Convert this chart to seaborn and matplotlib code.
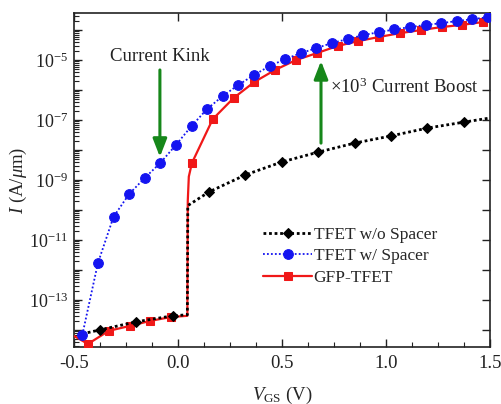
import numpy as np
import pandas as pd
import matplotlib
matplotlib.use("Agg")
import matplotlib.pyplot as plt
import matplotlib.ticker as mticker
import seaborn as sns

# ---- data: gate voltage (V) and drain current (A/um) ----
vgs_nospacer = [-0.46, -0.376, -0.201, -0.026, 0.045, 0.047, 0.149, 0.324, 0.499,
                0.674, 0.849, 1.024, 1.199, 1.374, 1.5]
id_nospacer = [7.4e-15, 1.0e-14, 1.86e-14, 2.95e-14, 3.2e-14, 1.4e-10, 4.0e-10, 1.48e-9,
               4.0e-9, 8.5e-9, 1.7e-8, 2.95e-8, 5.4e-8, 8.5e-8, 1.17e-7]
mark_nospacer = [1, 2, 3, 6, 7, 8, 9, 10, 11, 12, 13]

vgs_spacer = [-0.46, -0.385, -0.31, -0.235, -0.16, -0.085, -0.01, 0.065, 0.14, 0.215,
              0.29, 0.365, 0.44, 0.515, 0.59, 0.665, 0.74, 0.815, 0.89, 0.965, 1.04,
              1.115, 1.19, 1.265, 1.34, 1.415, 1.49]
id_spacer = [6.8e-15, 1.7e-12, 5.9e-11, 3.4e-10, 1.17e-9, 3.7e-9, 1.48e-8, 6.3e-8,
             2.34e-7, 6.3e-7, 1.48e-6, 3.16e-6, 6.3e-6, 1.07e-5, 1.7e-5, 2.5e-5,
             3.7e-5, 5.0e-5, 6.8e-5, 8.5e-5, 1.05e-4, 1.26e-4, 1.48e-4, 1.7e-4,
             2.0e-4, 2.3e-4, 2.7e-4]

vgs_gfp = [-0.5, -0.433, -0.333, -0.233, -0.133, -0.033, 0.045, 0.047, 0.052, 0.067,
           0.167, 0.267, 0.367, 0.467, 0.567, 0.667, 0.767, 0.867, 0.967, 1.067, 1.167,
           1.267, 1.367, 1.467, 1.5]
id_gfp = [6.3e-15, 3.4e-15, 9.3e-15, 1.35e-14, 2.0e-14, 2.7e-14, 2.95e-14, 2.0e-10,
          1.3e-9, 3.7e-9, 1.07e-7, 5.4e-7, 1.86e-6, 4.7e-6, 1.0e-5, 1.7e-5, 2.95e-5,
          4.3e-5, 5.9e-5, 7.9e-5, 1.0e-4, 1.26e-4, 1.5e-4, 1.86e-4, 2.1e-4]
mark_gfp = [1, 2, 3, 4, 5, 9, 10, 11, 12, 13, 14, 15, 16, 17, 18, 19, 20, 21, 22, 23]

labels = ["TFET w/o Spacer", "TFET w/ Spacer", "GFP-TFET"]
xticks = [-0.5, 0.0, 0.5, 1.0, 1.5]

sns.set_theme(style="ticks")
plt.rcParams["font.family"] = ["Liberation Serif", "DejaVu Serif"]
plt.rcParams["mathtext.fontset"] = "custom"
plt.rcParams["mathtext.rm"] = "Liberation Serif"
plt.rcParams["mathtext.it"] = "Liberation Serif:italic"
plt.rcParams["mathtext.bf"] = "Liberation Serif:bold"

fig = plt.figure(figsize=(5.02, 4.04), dpi=100)
ax = fig.add_axes([74 / 502, 1 - 347 / 404, 416 / 502, 334 / 404])

RED = "#f01818"
BLUE = "#1414f0"
BLACK = "#000000"
GREEN = "#16871a"

df_gfp = pd.DataFrame({"V": vgs_gfp, "I": id_gfp})
df_ns = pd.DataFrame({"V": vgs_nospacer, "I": id_nospacer})
df_sp = pd.DataFrame({"V": vgs_spacer, "I": id_spacer})

sns.lineplot(data=df_gfp, x="V", y="I", ax=ax, color=RED, lw=1.6, marker="s",
             markersize=5.5, markeredgecolor=RED, markevery=mark_gfp,
             estimator=None, sort=False, label=labels[2], zorder=3)
sns.lineplot(data=df_ns, x="V", y="I", ax=ax, color=BLACK, lw=2.0, linestyle=(0, (1, 1)),
             marker="D", markersize=5.5, markeredgecolor=BLACK, markevery=mark_nospacer,
             estimator=None, sort=False, label=labels[0], zorder=4)
sns.lineplot(data=df_sp, x="V", y="I", ax=ax, color=BLUE, lw=1.3, linestyle=(0, (1, 1.2)),
             marker="o", markersize=7, markeredgecolor=BLUE,
             estimator=None, sort=False, label=labels[1], zorder=5)

ax.set_yscale("log")
ax.set_xlim(-0.5, 1.5)
ax.set_ylim(10 ** -14.57, 10 ** -3.43)

# axis ticks
ax.xaxis.set_major_locator(mticker.FixedLocator(xticks))
ax.xaxis.set_major_formatter(mticker.FixedFormatter(["-0.5", "0.0", "0.5", "1.0", "1.5"]))
ax.xaxis.set_minor_locator(mticker.MultipleLocator(0.125))
ax.yaxis.set_major_locator(mticker.LogLocator(base=10, numticks=30))
ax.yaxis.set_minor_locator(mticker.LogLocator(base=10, subs=np.arange(2, 10), numticks=30))
ax.yaxis.set_minor_formatter(mticker.NullFormatter())


def odd_decades(val, pos):
    e = int(round(np.log10(val)))
    return r"$10^{%d}$" % e if e % 2 else ""


ax.yaxis.set_major_formatter(mticker.FuncFormatter(odd_decades))
ax.tick_params(which="major", direction="in", length=6, width=1.0, top=True, right=True,
               labelsize=13.5, colors="#222222", pad=6)
ax.tick_params(axis="y", which="major", labelsize=13, pad=4)
ax.tick_params(which="minor", direction="in", length=3.5, width=0.8, top=False, right=False,
               colors="#222222")
ax.tick_params(axis="x", which="minor", bottom=True)
for s in ax.spines.values():
    s.set_linewidth(1.2)
    s.set_color("#222222")

ax.set_xlabel(r"$V_{\rm GS}$ (V)", fontsize=13.5, labelpad=9)
ax.set_ylabel(r"$I$ (A/$\mu$m)", fontsize=13.5, labelpad=0)

# annotations
ax.annotate("", xy=(-0.087, 10 ** -8.23), xytext=(-0.087, 10 ** -5.33),
            arrowprops=dict(arrowstyle="-|>,head_length=0.9,head_width=0.35", color=GREEN,
                            lw=2.2, shrinkA=0, shrinkB=0), zorder=6)
ax.annotate("", xy=(0.6875, 10 ** -5.03), xytext=(0.6875, 10 ** -7.77),
            arrowprops=dict(arrowstyle="-|>,head_length=0.9,head_width=0.35", color=GREEN,
                            lw=2.2, shrinkA=0, shrinkB=0), zorder=6)
ax.text(-0.087, 10 ** -5.03, "Current Kink", ha="center", va="baseline", fontsize=13.5,
        color="#222222")
ax.text(0.731, 10 ** -6.1, "×10$^3$ Current Boost", ha="left", va="baseline",
        fontsize=13.5, color="#222222")

h, l = ax.get_legend_handles_labels()
order = [l.index(t) for t in labels]
ax.legend([h[i] for i in order], [l[i] for i in order], loc="upper left",
          bbox_to_anchor=(0.455, 0.36), frameon=False, fontsize=12.5,
          handlelength=2.8, handletextpad=0.1, labelspacing=0.3, borderpad=0,
          borderaxespad=0)

fig.savefig("out.png", dpi=100)
